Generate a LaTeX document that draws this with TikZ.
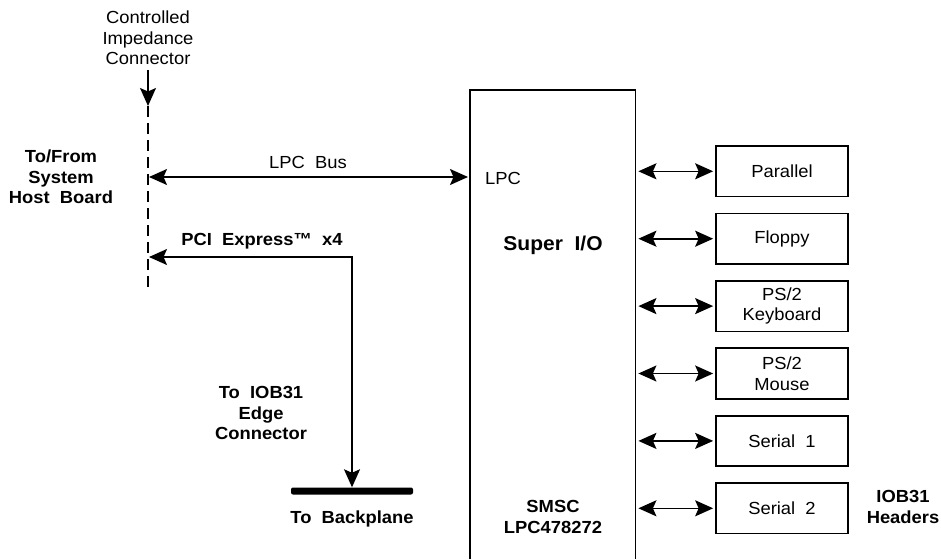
\documentclass[tikz,border=0pt]{standalone}
\usepackage{fontspec}
\setmainfont{Liberation Sans}[FakeStretch=1.05]
\usetikzlibrary{arrows.meta}
\begin{document}
\begin{tikzpicture}[x=1pt,y=-1pt,
  lbl/.style={font=\fontsize{17.5}{20.5}\selectfont, align=center, inner sep=0pt},
  blbl/.style={font=\fontsize{17.5}{20.5}\selectfont\bfseries, align=center, inner sep=0pt},
  iobox/.style={draw, line width=1.7pt, minimum width=132pt, minimum height=50.5pt, inner sep=0pt, align=center, font=\fontsize{17.5}{20.5}\selectfont},
  conn/.style={line width=1.6pt},
  biarrow/.style={conn,{Stealth[length=18pt,width=16pt,inset=3.5pt]}-{Stealth[length=18pt,width=16pt,inset=3.5pt]}},
  onearrow/.style={conn,-{Stealth[length=18pt,width=16pt,inset=3.5pt]}}
]
\useasboundingbox (0,0) rectangle (941,559);

% controlled impedance connector
\node[lbl] (cic) at (148,38) {Controlled\\Impedance\\Connector};
\coordinate (cictop) at (148,70);
\coordinate (dtop) at (148,106);
\coordinate (dbot) at (148,290);
\draw[onearrow] (cictop) -- (dtop);
\draw[line width=1.6pt, dash pattern=on 11pt off 6pt] (dtop) -- (dbot);
\node[blbl] (host) at (61,177) {To/From\\System\\Host~~Board};

% Super I/O
\node[minimum width=165pt, minimum height=469pt, inner sep=0pt, anchor=north west] (sio) at (470,90) {};
\draw[line width=1.7pt] (sio.south west) -- (sio.north west) -- (sio.north east) -- (sio.south east);
\node[lbl, anchor=west] (lpcin) at (485,178) {LPC};
\node[font=\fontsize{20}{24}\selectfont\bfseries, inner sep=0pt] (siolbl) at (553,245) {Super~~I/O};
\node[blbl] (smsc) at (553,517) {SMSC\\LPC478272};

% LPC bus
\coordinate (lpcL) at (148,177);
\draw[biarrow, shorten <=1pt, shorten >=2pt] (lpcL) -- (sio.west |- lpcL);
\node[lbl] (lpcbus) at (308,162) {LPC~~Bus};

% PCI Express
\node[fill=black, rounded corners=2pt, minimum width=122pt, minimum height=7pt, inner sep=0pt] (bar) at (352,491) {};
\coordinate (pciL) at (148,257);
\draw[biarrow, shorten <=1pt] (pciL) -| (bar.north);
\node[blbl] (pcilbl) at (262,241) {PCI~~Express™~~x4};
\node[blbl] (edge) at (261,413) {To~~IOB31\\Edge\\Connector};
\node[blbl] (bp) at (352,519) {To~~Backplane};

% IO boxes
\node[iobox] (par) at (782,171.3) {Parallel};
\node[iobox] (flp) at (782,238.7) {Floppy};
\node[iobox] (kbd) at (782,306.1) {PS/2\\Keyboard};
\node[iobox] (mse) at (782,373.5) {PS/2\\Mouse};
\node[iobox] (ser1) at (782,440.9) {Serial~~1};
\node[iobox] (ser2) at (782,508.3) {Serial~~2};
\foreach \b in {par,flp,kbd,mse,ser1,ser2}{
  \draw[biarrow, shorten <=3pt, shorten >=2pt] (sio.east |- \b.west) -- (\b.west);
}
\node[blbl] (hdr) at (903,507) {IOB31\\Headers};
\end{tikzpicture}
\end{document}
